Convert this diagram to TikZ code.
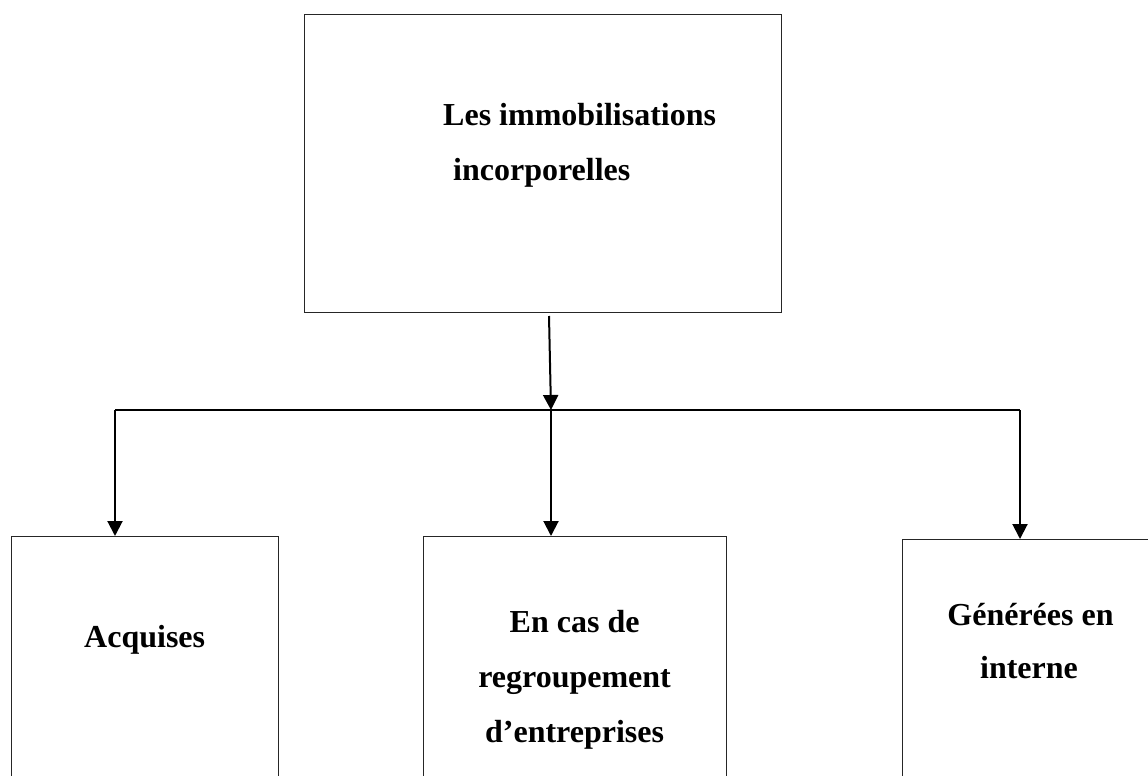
\documentclass[tikz,border=0pt]{standalone}
\usepackage{fontspec}
\setmainfont{Liberation Serif}
\usetikzlibrary{arrows.meta}
\begin{document}
\begin{tikzpicture}[x=1pt,y=-1pt,
  boxnode/.style={draw=black!85,line width=1.3pt,inner sep=0pt,anchor=north west},
  txt/.style={font=\fontsize{32}{55}\selectfont\bfseries,inner sep=0pt,anchor=base},
  txtl/.style={txt,anchor=base west},
  arr/.style={line width=2pt,-{Triangle[width=15pt,length=15pt]}},
  ln/.style={line width=2pt}]
\useasboundingbox (0,0) rectangle (1148,776);
\clip (0,0) rectangle (1148,776);
% boxes
\node[boxnode,minimum width=477pt,minimum height=298pt] (top) at (304,14) {};
\node[boxnode,minimum width=267pt,minimum height=300pt] (left) at (11,536) {};
\node[boxnode,minimum width=303pt,minimum height=300pt] (mid) at (423,536) {};
\node[boxnode,minimum width=270pt,minimum height=300pt] (right) at (902,539) {};
% texts
\node[txtl] (t1) at (443,125) {Les immobilisations};
\node[txtl] (t2) at (453,180) {incorporelles};
\node[txt] (l1) at (144.7,647) {Acquises};
\node[txt] (m1) at (574.6,632) {En cas de};
\node[txt] (m2) at (574.6,687) {regroupement};
\node[txt] (m3) at (574.6,742) {d’entreprises};
\node[txt] (r1) at (1030.5,625) {Générées en};
\node[txt] (r2) at (1029,678) {interne};
% connectors
\coordinate (s) at (549,316);
\coordinate (hM) at (551,410);
\coordinate (hL) at (115,410);
\coordinate (hR) at (1020,410);
\draw[arr] (s) -- (hM);
\draw[ln] (hL) -- (hR);
\draw[arr] (hL) -- (hL |- left.north);
\draw[arr] (hM) -- (hM |- mid.north);
\draw[arr] (hR) -- (hR |- right.north);
\end{tikzpicture}
\end{document}
